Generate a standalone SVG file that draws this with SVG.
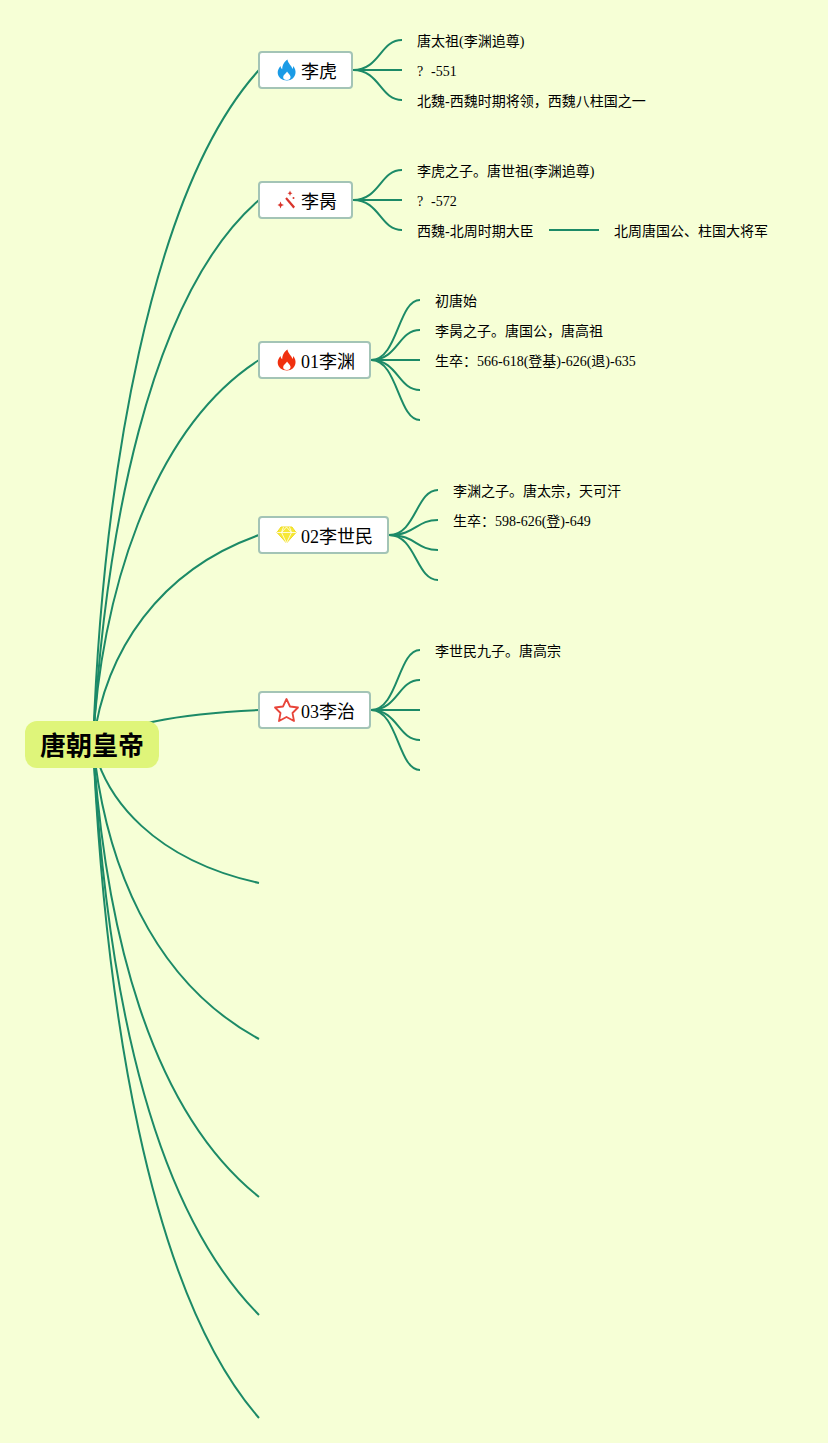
<svg xmlns="http://www.w3.org/2000/svg" width="828" height="1443" viewBox="0 0 828 1443">
<style>
.c{fill:none;stroke:#1c8a67;stroke-width:2}
.n{fill:#fff;stroke:#a3c4b6;stroke-width:2}
.h{fill:#fff}
text{font-family:"Liberation Serif","Noto Sans CJK SC",serif;fill:#000}
.t{font-size:14px}
.l{font-size:18px}
.r{font-family:"Liberation Sans","Noto Sans CJK SC",sans-serif;font-size:26px;font-weight:700}
</style>
<defs>
<path id="flame" fill-rule="evenodd" d="M1 -11C1.500 -7 5 -5 6 -1.500C6.500 -2.500 6.800 -3.500 6.700 -4.500C8.500 -2 9.300 0 9 2.500C8.500 7 5 10 0.500 10C-4.500 10 -8.500 7 -8.800 2.500C-9 -0.500 -7.500 -2.500 -6 -4.500C-5.800 -3 -5.300 -2 -4.300 -1.300C-4.300 -5.500 -2 -9 1 -11ZM0.500 1C-0.200 3 -3.300 4 -3.300 7C-3.300 8.500 -2 9.500 0.300 9.500C3 9.500 4.300 8 4 6C3.700 4 1.500 3 0.500 1Z"/>
</defs>
<rect width="828" height="1443" fill="#f6ffd6"/>
<g id="connectors">
<path class="c" d="M93 744C103 480 150 190 259 70"/>
<path class="c" d="M93 744C105 540 147 297 259 200"/>
<path class="c" d="M93 744C100 600 150 430 259 360"/>
<path class="c" d="M93 744C105 650 160 570 259 535"/>
<path class="c" d="M93 744C125 722 190 713 259 710"/>
<path class="c" d="M93 744C105 800 155 860 259 883"/>
<path class="c" d="M93 744C105 860 150 980 259 1039"/>
<path class="c" d="M93 744C105 930 150 1110 259 1197"/>
<path class="c" d="M93 744C105 970 145 1200 259 1315"/>
<path class="c" d="M93 744C105 1000 147 1290 259 1418"/>
<path class="c" d="M353 70C380 70 380 40 402 40"/>
<path class="c" d="M353 70H402"/>
<path class="c" d="M353 70C380 70 380 100 402 100"/>
<path class="c" d="M353 200C380 200 380 170 402 170"/>
<path class="c" d="M353 200H402"/>
<path class="c" d="M353 200C380 200 380 230 402 230"/>
<path class="c" d="M549 230H599"/>
<path class="c" d="M371 360C398 360 398 300 420 300"/>
<path class="c" d="M371 360C398 360 398 330 420 330"/>
<path class="c" d="M371 360H420"/>
<path class="c" d="M371 360C398 360 398 390 420 390"/>
<path class="c" d="M371 360C398 360 398 420 420 420"/>
<path class="c" d="M389 535C416 535 416 490 438 490"/>
<path class="c" d="M389 535C416 535 416 520 438 520"/>
<path class="c" d="M389 535C416 535 416 550 438 550"/>
<path class="c" d="M389 535C416 535 416 580 438 580"/>
<path class="c" d="M371 710C398 710 398 650 420 650"/>
<path class="c" d="M371 710C398 710 398 680 420 680"/>
<path class="c" d="M371 710H420"/>
<path class="c" d="M371 710C398 710 398 740 420 740"/>
<path class="c" d="M371 710C398 710 398 770 420 770"/>
</g>
<g id="root"><rect x="25" y="721" width="134" height="47" rx="12" fill="#dff57a"/><text class="r" x="92" y="755" text-anchor="middle">唐朝皇帝</text></g>
<g id="n1"><rect class="n" x="259" y="52" width="93" height="36" rx="3"/><use href="#flame" x="286.500" y="70.500" fill="#1a9be6"/><text class="l" x="301" y="78">李虎</text></g>
<g id="n2"><rect class="n" x="259" y="182" width="93" height="36" rx="3"/>
<g fill="#d9342b" stroke="none"><path d="M285.200 198.800L286.800 197.200L295 206.800L293.400 208.400Z"/><path d="M280.500 201.500L281.500 204L284 205L281.500 206L280.500 208.500L279.500 206L277.500 205L279.500 204Z"/><path d="M290 190.500L290.800 192.500L292.500 193.300L290.800 194L290 196L289.200 194L287.500 193.300L289.200 192.500Z"/><circle cx="293.500" cy="198" r="1"/></g>
<text class="l" x="301" y="208">李昺</text></g>
<g id="n3"><rect class="n" x="259" y="342" width="111" height="36" rx="3"/><use href="#flame" x="286.500" y="360.500" fill="#f0300f"/><text class="l" x="301" y="368">01李渊</text></g>
<g id="n4"><rect class="n" x="259" y="517" width="129" height="36" rx="3"/>
<path d="M281 527H292L296 532.500L286.500 543L277 532.500Z" fill="#f7e836" stroke="#f0dc20"/><path d="M277 532.500H296M283.500 527L281.500 532.500L286.500 543L291.500 532.500L289.500 527M281.500 532.500L286.500 527L291.500 532.500" fill="none" stroke="#fff" stroke-width=".8"/>
<text class="l" x="301" y="543">02李世民</text></g>
<g id="n5"><rect class="n" x="259" y="692" width="111" height="36" rx="3"/>
<path d="M286.500 699L290 706.500L298 707.500L292.500 713L294 721L286.500 717L279 721L280.500 713L275 707.500L283 706.500Z" fill="#fff" stroke="#e8453a" stroke-width="1.800" stroke-linejoin="round"/>
<text class="l" x="301" y="718">03李治</text></g>
<g id="labels">
<text class="t" x="417" y="46">唐太祖(李渊追尊)</text>
<text class="t" x="417" y="76">?<tspan x="431">-551</tspan></text>
<text class="t" x="417" y="106">北魏-西魏时期将领，西魏八柱国之一</text>
<text class="t" x="417" y="176">李虎之子。唐世祖(李渊追尊)</text>
<text class="t" x="417" y="206">?<tspan x="431">-572</tspan></text>
<text class="t" x="417" y="236">西魏-北周时期大臣</text>
<text class="t" x="614" y="236">北周唐国公、柱国大将军</text>
<text class="t" x="435" y="306">初唐始</text>
<text class="t" x="435" y="336">李昺之子。唐国公，唐高祖</text>
<text class="t" x="435" y="366">生卒：566-618(登基)-626(退)-635</text>
<text class="t" x="453" y="496">李渊之子。唐太宗，天可汗</text>
<text class="t" x="453" y="526">生卒：598-626(登)-649</text>
<text class="t" x="435" y="656">李世民九子。唐高宗</text>
</g>
</svg>
